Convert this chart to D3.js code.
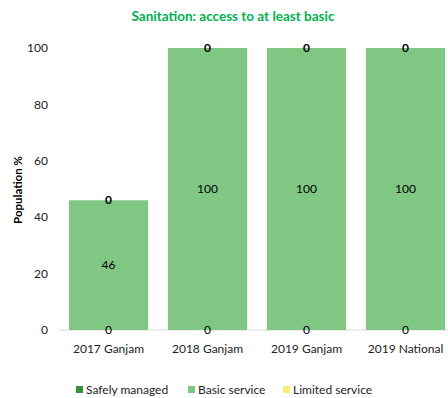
<!DOCTYPE html>
<html>
<head>
<meta charset="utf-8">
<script src="https://cdn.jsdelivr.net/npm/d3@7"></script>
<style>
  body { margin: 0; background: #fff; }
  svg { font-family: Lato, "Open Sans", sans-serif; }
</style>
</head>
<body>
<svg id="chart" width="448" height="398"></svg>
<script>
const categories = ["2017 Ganjam", "2018 Ganjam", "2019 Ganjam", "2019 National"];
const safelyManaged = [0, 0, 0, 0];
const basicService = [46, 100, 100, 100];
const limitedService = [0, 0, 0, 0];
const yTicks = [0, 20, 40, 60, 80, 100];
const seriesNames = ["Safely managed", "Basic service", "Limited service"];
const seriesColors = ["#38903d", "#80c784", "#ffeb70"];

const svg = d3.select("#chart");

const x = d3.scaleBand().domain(categories).range([59, 455]).paddingInner(0.2).paddingOuter(0.1);
const y = d3.scaleLinear().domain([0, 100]).range([330, 48]);

const rows = categories.map((c, i) => ({
  cat: c, safe: safelyManaged[i], basic: basicService[i], limited: limitedService[i]
}));
const keys = ["safe", "basic", "limited"];
const stacked = d3.stack().keys(keys)(rows);

// baseline
svg.append("line").attr("x1", 59).attr("x2", 448).attr("y1", y(0)).attr("y2", y(0))
  .attr("stroke", "#d9d9d9").attr("stroke-width", 1);

// stacked segments
stacked.forEach((layer, li) => {
  svg.append("g").selectAll("rect").data(layer).join("rect")
    .attr("x", d => x(d.data.cat))
    .attr("width", x.bandwidth())
    .attr("y", d => y(d[1]))
    .attr("height", d => y(d[0]) - y(d[1]))
    .attr("fill", seriesColors[li]);
});

// value labels
stacked.forEach((layer, li) => {
  svg.append("g").selectAll("text").data(layer).join("text")
    .attr("x", d => x(d.data.cat) + x.bandwidth() / 2)
    .attr("y", d => y((d[0] + d[1]) / 2))
    .attr("dy", "0.35em")
    .attr("text-anchor", "middle")
    .attr("font-size", 12)
    .attr("font-weight", li === 2 ? "bold" : "normal")
    .attr("fill", "#000")
    .text(d => d[1] - d[0]);
});

// y axis tick labels
svg.append("g").selectAll("text").data(yTicks).join("text")
  .attr("x", 48).attr("y", d => y(d)).attr("dy", "0.35em")
  .attr("text-anchor", "end").attr("font-size", 12).attr("fill", "#222")
  .text(d => d);

// category labels
svg.append("g").selectAll("text").data(categories).join("text")
  .attr("x", d => x(d) + x.bandwidth() / 2).attr("y", 353)
  .attr("text-anchor", "middle").attr("font-size", 12).attr("fill", "#222")
  .text(d => d);

// y axis title
svg.append("text")
  .attr("transform", "translate(22,190) rotate(-90)")
  .attr("text-anchor", "middle").attr("font-size", 11.5).attr("font-weight", "bold")
  .attr("fill", "#000").text("Population %");

// chart title
svg.append("text")
  .attr("x", 233).attr("y", 21).attr("text-anchor", "middle")
  .attr("font-size", 13.5).attr("font-weight", "bold").attr("fill", "#00b050")
  .text("Sanitation: access to at least basic");

// legend
const legendX = [76, 188, 283];
const lg = svg.append("g").selectAll("g").data(seriesNames).join("g")
  .attr("transform", (d, i) => `translate(${legendX[i]},390)`);
lg.append("rect").attr("x", 0).attr("y", -4).attr("width", 7).attr("height", 7)
  .attr("fill", (d, i) => seriesColors[i]);
lg.append("text").attr("x", 10).attr("y", 0).attr("dy", "0.35em")
  .attr("font-size", 12).attr("fill", "#222").text(d => d);
</script>
</body>
</html>
